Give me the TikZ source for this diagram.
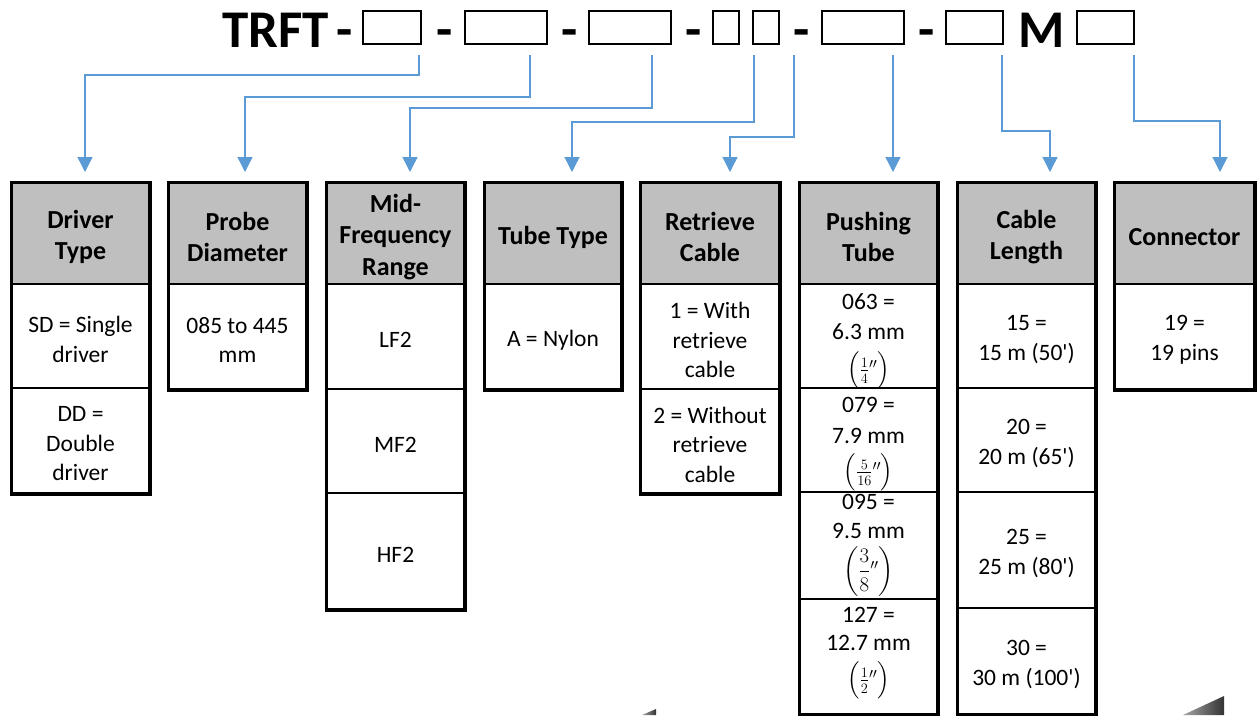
\documentclass[tikz,border=0pt]{standalone}
\usepackage{amsmath}
\usepackage{fontspec}
\setmainfont{Carlito}[Ligatures=TeXOff]
\usetikzlibrary{arrows.meta}
\definecolor{connblue}{HTML}{5B9BD5}
\definecolor{hdr}{HTML}{BFBFBF}
% \cell{box style}{text style}{name}{x1}{x2}{y1}{y2}{text}
\newcommand\cell[8]{%
  \node[#1, minimum width={(#5)-(#4)}, minimum height={(#7)-(#6)}] (#3) at ({((#4)+(#5))/2},{-((#6)+(#7))/2}) {};
  \node[#2] (#3t) at ([yshift=-3.5pt]#3.center) {#8};}
\newcommand\inch[2]{$\Bigl(\tfrac{#1}{#2}{}^{\prime\prime}\Bigr)$}
\begin{document}
\begin{tikzpicture}[x=1pt,y=1pt,
 slot/.style={draw, line width=2.6pt, inner sep=0pt, minimum height=33},
 ttl/.style={font=\bfseries\fontsize{53}{53}\selectfont, inner sep=0pt},
 connline/.style={draw=connblue, line width=1.4pt, -{Triangle[length=15pt,width=15pt]}},
 hbox/.style={draw, line width=2pt, fill=hdr, inner sep=0pt},
 bbox/.style={draw, line width=2pt, inner sep=0pt},
 htxt/.style={inner sep=0pt, font=\bfseries\fontsize{26}{31.5}\selectfont, align=center},
 btxt/.style={inner sep=0pt, font=\fontsize{23.5}{29.5}\selectfont, align=center},
 ptext/.style={inner sep=0pt, font=\fontsize{23.5}{24}\selectfont},
 ftext/.style={inner sep=0pt, font=\fontsize{19.5}{20}\selectfont},
 frame/.style={draw, line width=3pt},
 ]
\useasboundingbox (0,0) rectangle (1257,-715);
% ---- title line
\node[ttl, anchor=base west] (trft) at (222,-47) {TRFT};
\node[ttl, anchor=base] (d1) at (345,-47) {-};
\node[slot, minimum width=58] (b1) at (392,-27.5) {};
\node[ttl, anchor=base] (d2) at (445,-47) {-};
\node[slot, minimum width=82] (b2) at (506,-27.5) {};
\node[ttl, anchor=base] (d3) at (569.5,-47) {-};
\node[slot, minimum width=82] (b3) at (630,-27.5) {};
\node[ttl, anchor=base] (d4) at (694,-47) {-};
\node[slot, minimum width=26] (b4a) at (726,-27.5) {};
\node[slot, minimum width=26] (b4b) at (766,-27.5) {};
\node[ttl, anchor=base] (d5) at (802,-47) {-};
\node[slot, minimum width=82] (b5) at (863,-27.5) {};
\node[ttl, anchor=base] (d6) at (926.5,-47) {-};
\node[slot, minimum width=57] (b6) at (974.5,-27.5) {};
\node[ttl, anchor=base] (mm) at (1041.5,-47) {M};
\node[slot, minimum width=57] (b7) at (1105.5,-27.5) {};
% ---- columns
\cell{hbox}{htxt}{h1}{12}{149}{183}{284}{Driver\\Type}
\cell{bbox}{btxt}{c1a}{12}{149}{284}{388}{SD = Single\\driver}
\cell{bbox}{btxt}{c1b}{12}{149}{388}{493}{DD =\\Double\\driver}
\draw[frame] (h1.north west) rectangle (c1b.south east);

\cell{hbox}{htxt}{h2}{169}{306}{183}{284}{Probe\\Diameter}
\cell{bbox}{btxt}{c2a}{169}{306}{284}{389}{085 to 445\\mm}
\draw[frame] (h2.north west) rectangle (c2a.south east);

\cell{hbox}{htxt}{h3}{327}{464}{183}{284}{Mid-\\Frequency\\Range}
\cell{bbox}{btxt}{c3a}{327}{464}{284}{389}{LF2}
\cell{bbox}{btxt}{c3b}{327}{464}{389}{493}{MF2}
\cell{bbox}{btxt}{c3c}{327}{464}{493}{609}{HF2}
\draw[frame] (h3.north west) rectangle (c3c.south east);

\cell{hbox}{htxt}{h4}{485}{621}{183}{284}{Tube Type}
\cell{bbox}{btxt}{c4a}{485}{621}{284}{389}{A = Nylon}
\draw[frame] (h4.north west) rectangle (c4a.south east);

\cell{hbox}{htxt}{h5}{641}{779}{183}{284}{Retrieve\\Cable}
\cell{bbox}{btxt}{c5a}{641}{779}{284}{389}{1 = With\\retrieve\\cable}
\cell{bbox}{btxt}{c5b}{641}{779}{389}{493}{2 = Without\\retrieve\\cable}
\draw[frame] (h5.north west) rectangle (c5b.south east);

\cell{hbox}{htxt}{h6}{800}{937}{183}{284}{Pushing\\Tube}
\cell{bbox}{btxt}{c6a}{800}{937}{284}{388}{}
\cell{bbox}{btxt}{c6b}{800}{937}{388}{492}{}
\cell{bbox}{btxt}{c6c}{800}{937}{492}{599}{}
\cell{bbox}{btxt}{c6d}{800}{937}{599}{714}{}
\draw[frame] (h6.north west) rectangle (c6d.south east);
\node[ptext, anchor=base] (p1a) at (868.5,-309.5) {063 =};
\node[ptext, anchor=base] (p1b) at (868.5,-339.5) {6.3 mm};
\node[ftext, anchor=base] (p1c) at (868.5,-376) {\inch{1}{4}};
\node[ptext, anchor=base] (p2a) at (868.5,-412.5) {079 =};
\node[ptext, anchor=base] (p2b) at (868.5,-443) {7.9 mm};
\node[ftext, anchor=base] (p2c) at (868.5,-478) {\inch{5}{16}};
\node[ptext, anchor=base] (p3a) at (868.5,-509.5) {095 =};
\node[ptext, anchor=base] (p3b) at (868.5,-538) {9.5 mm};
\node[ftext, anchor=base] (p3c) at (868.5,-577) {$\left(\dfrac{3}{8}{}^{\prime\prime}\right)$};
\node[ptext, anchor=base] (p4a) at (868.5,-622) {127 =};
\node[ptext, anchor=base] (p4b) at (868.5,-650.5) {12.7 mm};
\node[ftext, anchor=base] (p4c) at (868.5,-686) {\inch{1}{2}};

\cell{hbox}{htxt}{h7}{958}{1095}{183}{284}{Cable\\Length}
\cell{bbox}{btxt}{c7a}{958}{1095}{284}{388}{15 =\\15 m (50')}
\cell{bbox}{btxt}{c7b}{958}{1095}{388}{492}{20 =\\20 m (65')}
\cell{bbox}{btxt}{c7c}{958}{1095}{492}{608}{25 =\\25 m (80')}
\cell{bbox}{btxt}{c7d}{958}{1095}{608}{714}{30 =\\30 m (100')}
\draw[frame] (h7.north west) rectangle (c7d.south east);

\cell{hbox}{htxt}{h8}{1115}{1254}{183}{284}{Connector}
\cell{bbox}{btxt}{c8a}{1115}{1254}{284}{389}{19 =\\19 pins}
\draw[frame] (h8.north west) rectangle (c8a.south east);
% ---- connector ends
\coordinate (s1) at (419,-55);  \coordinate (t1) at (85,-172);
\coordinate (s2) at (530,-55);  \coordinate (t2) at (245,-172);
\coordinate (s3) at (652,-55);  \coordinate (t3) at (410,-172);
\coordinate (s4) at (754,-55);  \coordinate (t4) at (572,-172);
\coordinate (s5) at (794,-55);  \coordinate (t5) at (730,-172);
\coordinate (s6) at (893,-55);  \coordinate (t6) at (893,-172);
\coordinate (s7) at (1002,-55); \coordinate (t7) at (1050,-172);
\coordinate (s8) at (1134,-55); \coordinate (t8) at (1220,-172);
\draw[connline] (s1) -- ++(0,-20) -| (t1);
\draw[connline] (s2) -- ++(0,-42) -| (t2);
\draw[connline] (s3) -- ++(0,-53) -| (t3);
\draw[connline] (s4) -- ++(0,-67) -| (t4);
\draw[connline] (s5) -- ++(0,-82) -| (t5);
\draw[connline] (s6) -- (t6);
\draw[connline] (s7) -- ++(0,-76) -| (t7);
\draw[connline] (s8) -- ++(0,-66) -| (t8);
% ---- stray shaded corners at the bottom edge
\shade[left color=black!35, right color=black!80] (642,-715) -- (656,-709) -- (656,-715) -- cycle;
\shade[left color=black!35, right color=black!80] (1183,-715) -- (1224,-696) -- (1224,-715) -- cycle;
\end{tikzpicture}
\end{document}
